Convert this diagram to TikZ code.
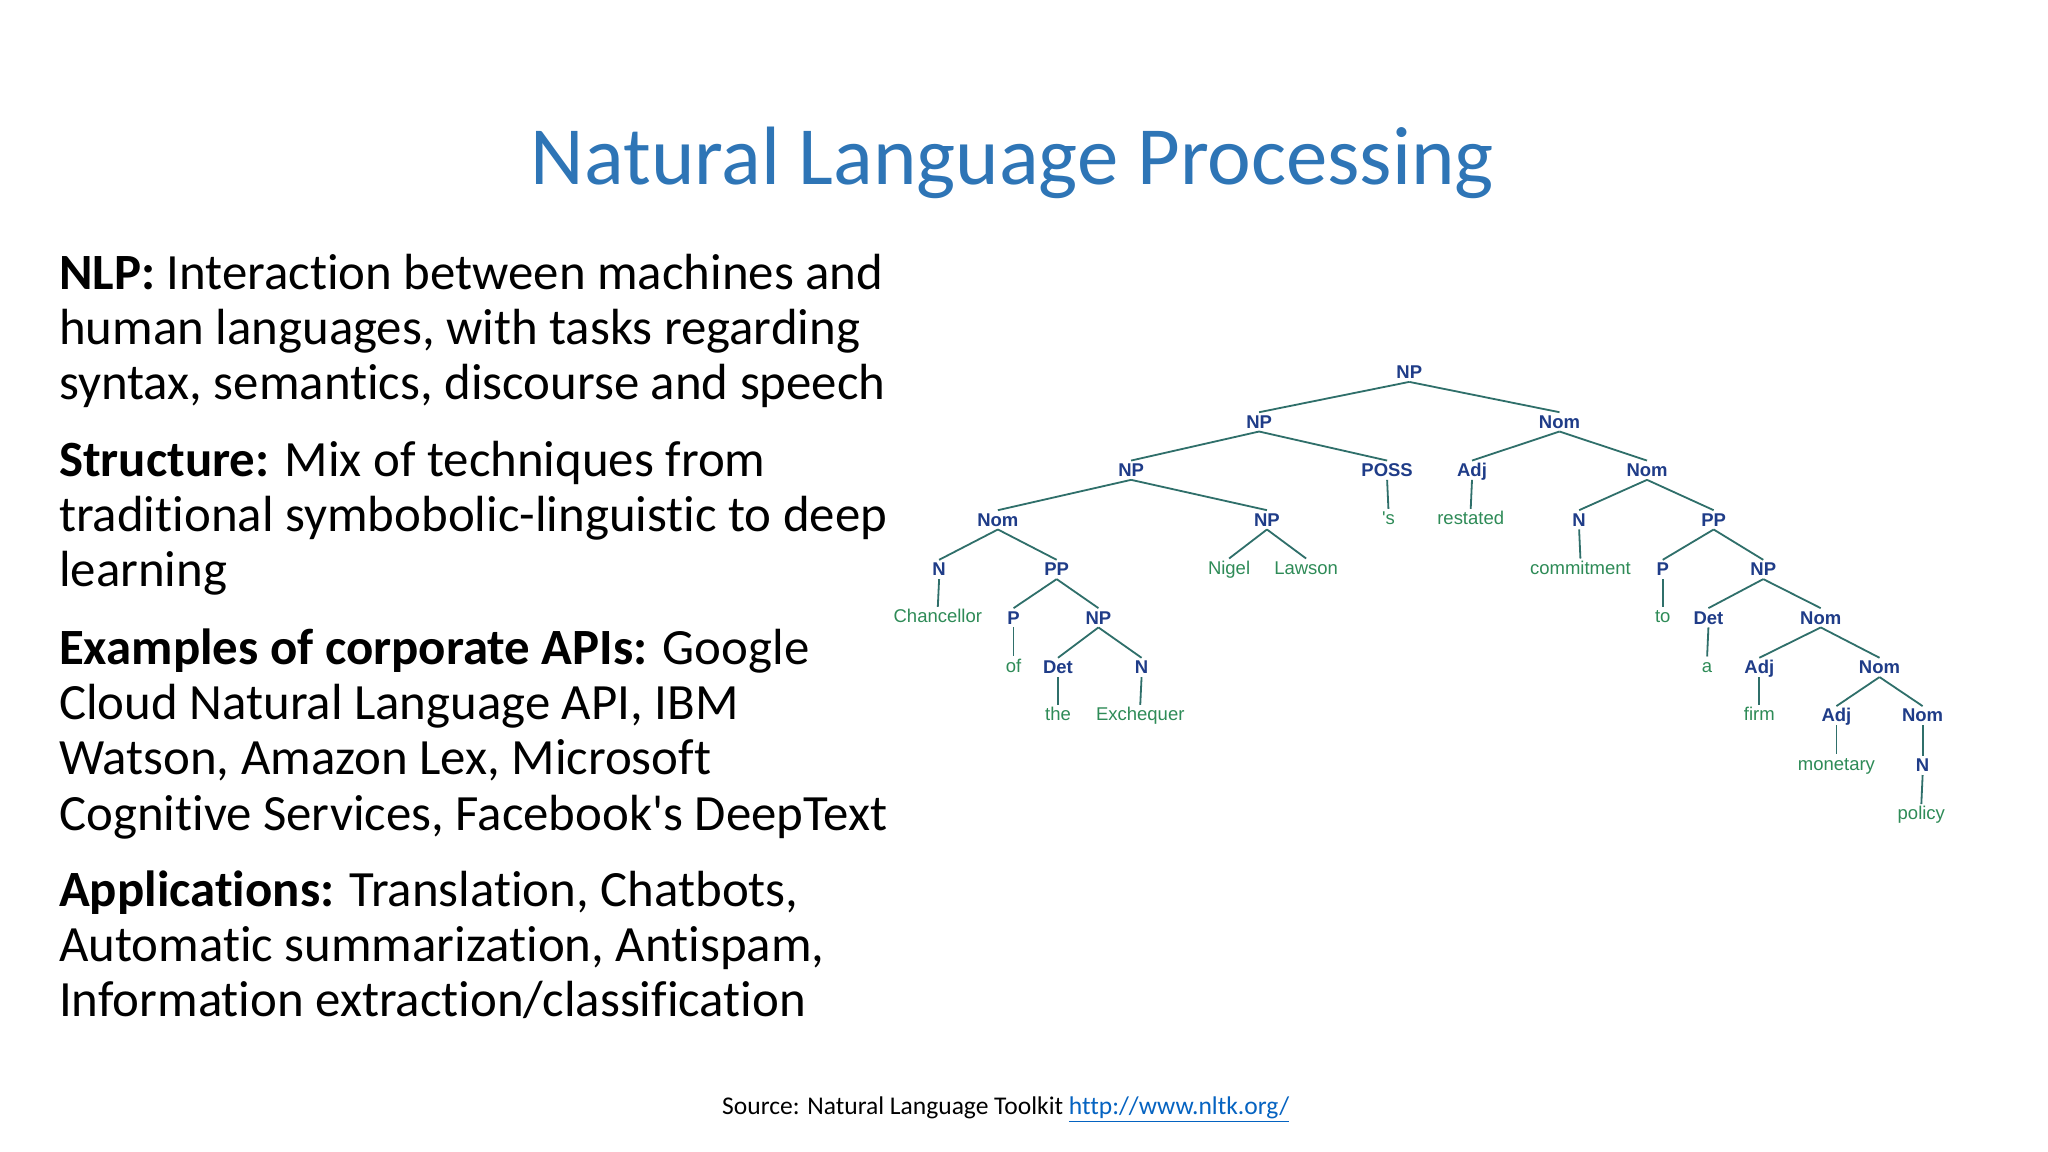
\documentclass[tikz,border=0pt]{standalone}
\usepackage{fontspec}
\setmainfont{Carlito}[RawFeature={-liga}]
\newfontfamily\treefont{Liberation Sans}
\definecolor{titleblue}{HTML}{2E75B6}
\definecolor{catblue}{HTML}{1F3C88}
\definecolor{wordgreen}{HTML}{2E8B57}
\definecolor{edgecol}{HTML}{2F6F6A}
\definecolor{linkblue}{HTML}{0563C1}
\tikzset{
  cat/.style={font=\treefont\bfseries\fontsize{9.2pt}{10pt}\selectfont, text=catblue, inner sep=1pt, text height=6.7pt, text depth=0.5pt},
  word/.style={font=\treefont\fontsize{9.2pt}{10pt}\selectfont, text=wordgreen, inner sep=1pt, text height=6.7pt, text depth=1.8pt},
  edge/.style={draw=edgecol, line width=0.9pt},
  body/.style={font=\fontsize{25.3pt}{30pt}\selectfont, anchor=base west, inner sep=0pt}
}
\begin{document}
\begin{tikzpicture}[x=0.65pt, y=-0.65pt]
\useasboundingbox[fill=white] (0,0) rectangle (1568,882);
\node[font=\fontsize{41.2pt}{47pt}\selectfont, text=titleblue, anchor=base, inner sep=0pt] (title) at (775,141) {Natural Language Processing};

\node[body] (l1) at (45,222) {\textbf{NLP:} Interaction between machines and};
\node[body] (l2) at (45,264) {human languages, with tasks regarding};
\node[body] (l3) at (45,306) {syntax, semantics, discourse and speech};
\node[body] (l4) at (45,365) {\textbf{Structure:} Mix of techniques from};
\node[body] (l5) at (45,407) {traditional symbobolic-linguistic to deep};
\node[body] (l6) at (45,449) {learning};
\node[body] (l7) at (45,509) {\textbf{Examples of corporate APIs:} Google};
\node[body] (l8) at (45,551) {Cloud Natural Language API, IBM};
\node[body] (l9) at (45,593) {Watson, Amazon Lex, Microsoft};
\node[body] (l10) at (45,636) {Cognitive Services, Facebook\textquotesingle s DeepText};
\node[body] (l11) at (45,694) {\textbf{Applications:} Translation, Chatbots,};
\node[body] (l12) at (45,736) {Automatic summarization, Antispam,};
\node[body] (l13) at (45,778) {Information extraction/classification};

\node[font=\fontsize{12.7pt}{14pt}\selectfont, anchor=base, inner sep=0pt] (src) at (770,853) {Source: Natural Language Toolkit \textcolor{linkblue}{\underline{http://www.nltk.org/}}};

% tree
\node[cat] (a) at (1079,285) {NP};
\node[cat] (b1) at (964,323) {NP};
\node[cat] (b2) at (1194,323) {Nom};
\node[cat] (c1) at (866,360) {NP};
\node[cat] (c2) at (1062,360) {POSS};
\node[cat] (c3) at (1127,360) {Adj};
\node[cat] (c4) at (1261,360) {Nom};
\node[cat] (d1) at (764,398) {Nom};
\node[cat] (d2) at (970,398) {NP};
\node[word] (d3) at (1063,398) {\textquotesingle s};
\node[word] (d4) at (1126,398) {restated};
\node[cat] (d5) at (1209,398) {N};
\node[cat] (d6) at (1312,398) {PP};
\node[cat] (e1) at (719,436) {N};
\node[cat] (e2) at (809,436) {PP};
\node[word] (e3) at (941,436) {Nigel};
\node[word] (e4) at (1000,436) {Lawson};
\node[word] (e5) at (1210,436) {commitment};
\node[cat] (e6) at (1273,436) {P};
\node[cat] (e7) at (1350,436) {NP};
\node[word] (f1) at (718,473) {Chancellor};
\node[cat] (f2) at (776,473) {P};
\node[cat] (f3) at (841,473) {NP};
\node[word] (f4) at (1273,473) {to};
\node[cat] (f5) at (1308,473) {Det};
\node[cat] (f6) at (1394,473) {Nom};
\node[word] (g1) at (776,511) {of};
\node[cat] (g2) at (810,511) {Det};
\node[cat] (g3) at (874,511) {N};
\node[word] (g4) at (1307,511) {a};
\node[cat] (g5) at (1347,511) {Adj};
\node[cat] (g6) at (1439,511) {Nom};
\node[word] (h1) at (810,548) {the};
\node[word] (h2) at (873,548) {Exchequer};
\node[word] (h3) at (1347,548) {firm};
\node[cat] (h4) at (1406,548) {Adj};
\node[cat] (h5) at (1472,548) {Nom};
\node[word] (i1) at (1406,586) {monetary};
\node[cat] (i2) at (1472,586) {N};
\node[word] (j1) at (1471,624) {policy};

\foreach \p/\c in {a/b1,a/b2,b1/c1,b1/c2,b2/c3,b2/c4,c1/d1,c1/d2,c2/d3,c3/d4,c4/d5,c4/d6,
  d1/e1,d1/e2,d2/e3,d2/e4,d5/e5,d6/e6,d6/e7,e1/f1,e2/f2,e2/f3,e6/f4,e7/f5,e7/f6,
  f2/g1,f3/g2,f3/g3,f5/g4,f6/g5,f6/g6,g2/h1,g3/h2,g5/h3,g6/h4,g6/h5,h4/i1,h5/i2,i2/j1}
  \draw[edge] (\p.south) -- (\c.north);
\end{tikzpicture}
\end{document}
